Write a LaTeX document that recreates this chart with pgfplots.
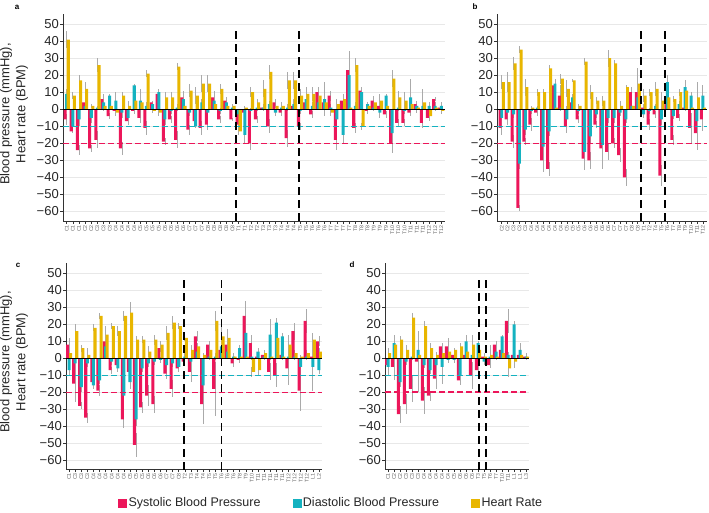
\documentclass[border=0pt]{standalone}
\usepackage{pgfplots}
\pgfplotsset{compat=1.18}
\usepackage{pgfplotstable}
\usepackage{fontspec}
\setmainfont{Liberation Sans}
\setsansfont{Liberation Sans}
\definecolor{sbpred}{RGB}{236,22,90}
\definecolor{dbpcyan}{RGB}{20,178,192}
\definecolor{hryellow}{RGB}{232,182,0}
\definecolor{errgray}{RGB}{170,170,170}

\pgfplotstableread{
x s es d ed h eh
0 -6 3 9 3 41 5
1 -13 1 -10 2 8 2
2 -24 3 -6 4 17 3
3 4 3 2 2 12 4
4 -23 2 -5 3 2 1
5 -18 5 1 1 26 4
6 6 2 4 5 2 2
7 -4 2 8 1 2 2
8 -1 3 5 5 -2 2
9 -23 4 -2 3 8 2
10 -7 2 -5 3 2 3
11 -1 2 14 1 5 3
12 -5 3 5 7 4 3
13 -11 4 2 2 21 2
14 4 1 3 2 -1 1
15 9 3 10 2 -2 2
16 -19 2 -6 3 7 3
17 -6 2 -1 2 7 3
18 -18 5 1 2 25 2
19 7 4 6 2 2 2
20 -12 3 -2 2 11 4
21 -7 3 -10 1 8 5
22 -11 4 4 2 15 5
23 -9 3 -2 2 15 5
24 7 4 5 2 3 2
25 -6 2 -1 2 12 3
26 5 1 4 3 2 2
27 -6 1 1 1 2 1
28 -9 4 -3 3 -13 2
29 -2 2 -15 5 1 1
30 -20 4 -1 2 10 3
31 -6 2 1 2 4 2
32 1 1 1 2 12 5
33 -10 4 3 2 22 4
34 4 2 -2 2 2 1
35 -2 2 1 2 2 2
36 -17 5 1 2 17 5
37 2 2 3 3 17 5
38 -10 2 -1 2 8 4
39 4 2 6 2 9 4
40 -3 2 2 2 9 4
41 10 2 4 4 8 5
42 4 2 6 10 4 3
43 8 3 1 2 -2 2
44 -18 6 -6 2 3 3
45 5 2 -15 5 6 3
46 23 11 20 11 1 1
47 -11 3 2 2 26 4
48 11 2 10 2 -10 2
49 -1 2 3 1 2 2
50 5 2 1 2 4 4
51 2 2 -2 3 5 4
52 -3 2 8 1 2 2
53 -20 6 -14 3 18 5
54 -8 2 1 2 7 4
55 -8 2 -1 2 5 5
56 -2 2 7 11 3 2
57 3 2 2 2 1 3
58 -8 3 2 2 4 8
59 -5 2 2 2 -4 3
60 6 1 2 2 1 2
61 1 2 2 2 -1 2
}\dataA

\pgfplotstableread{
x s es d ed h eh
0 -11 4 -5 2 16 4
1 -6 3 -2 2 16 6
2 -19 4 -3 2 27 4
3 -58 2 -32 3 35 2
4 -19 2 -12 3 13 5
5 -9 4 -1 2 1 1
6 -2 2 1 1 10 2
7 -30 7 -22 3 10 2
8 -35 4 -13 3 24 2
9 14 4 15 2 1 1
10 8 6 1 2 18 3
11 -10 2 -6 8 12 5
12 4 2 7 2 17 1
13 -6 2 -1 2 2 1
14 -29 7 -25 4 28 2
15 -30 5 -16 4 10 4
16 -9 2 -3 2 5 2
17 -23 7 -21 14 5 3
18 -25 5 -5 3 30 5
19 -20 3 -5 3 27 2
20 -27 4 -2 2 2 3
21 -40 5 -6 2 13 1
22 10 3 2 2 2 1
23 10 7 7 2 15 9
24 1 2 -3 2 8 4
25 -9 3 -1 2 10 2
26 -3 2 2 1 12 4
27 -39 6 -6 3 5 5
28 7 2 16 4 7 2
29 -18 3 -4 2 6 2
30 -5 2 3 2 10 2
31 1 2 13 4 11 4
32 -11 9 8 2 1 1
33 -14 10 -7 3 7 9
34 -6 7 8 6 1 1
}\dataB

\pgfplotstableread{
x s es d ed h eh
0 8 4 -7 3 3 2
1 -15 11 -3 2 16 4
2 -28 2 -17 3 6 2
3 -35 3 -3 2 2 4
4 -14 3 -16 2 18 2
5 -19 3 -13 2 25 2
6 10 2 7 2 14 5
7 -7 2 -2 2 19 2
8 -4 2 -6 2 16 3
9 -36 5 -22 3 25 3
10 -8 3 -14 4 27 6
11 -51 7 -36 4 11 2
12 -29 3 -6 2 11 2
13 -22 6 -3 2 4 3
14 -27 5 -2 2 11 3
15 6 2 -1 2 8 2
16 -9 3 -4 2 15 4
17 -18 5 -3 2 21 4
18 -6 2 -5 2 19 2
19 -2 2 1 2 12 2
20 -8 6 -2 2 5 3
21 13 3 4 2 7 2
22 -27 12 -16 3 2 1
23 8 2 1 2 5 2
24 -18 16 1 2 22 6
25 5 2 7 2 13 6
26 8 2 4 2 12 5
27 -3 2 1 2 1 1
28 -1 2 6 2 1 1
29 25 9 15 4 1 1
30 9 5 1 2 -8 3
31 1 2 4 2 -7 3
32 2 2 1 2 3 2
33 -8 5 14 9 1 2
34 -10 7 21 3 12 2
35 2 2 13 2 1 2
36 -6 10 1 2 8 6
37 16 5 1 2 3 2
38 -19 12 -5 2 1 1
39 22 7 1 2 3 2
40 1 2 -5 14 11 4
41 10 3 -7 2 4 2
}\dataC

\pgfplotstableread{
x s es d ed h eh
0 -4 4 -5 5 3 3
1 -5 8 9 5 8 6
2 -33 5 -14 3 11 2
3 -27 6 -2 2 5 3
4 -18 8 1 2 24 3
5 -2 18 5 9 2 2
6 -25 8 -4 2 19 3
7 -22 3 -7 2 6 3
8 -12 6 -4 2 2 2
9 7 2 -5 10 3 4
10 7 5 -1 2 4 2
11 2 2 -1 2 5 1
12 -13 3 -10 2 7 2
13 2 2 10 4 4 2
14 -10 8 2 2 8 6
15 -7 3 9 1 5 3
16 1 2 -2 2 1 2
17 -4 2 1 2 2 6
18 8 2 4 2 1 2
19 5 2 13 1 3 2
20 22 7 2 2 -6 5
21 2 2 20 2 -2 4
22 2 2 5 4 2 2
23 1 2 1 2 1 2
}\dataD

\pgfplotsset{
  bpaxis/.style={
    scale only axis, anchor=south west,
    axis x line*=bottom, axis y line*=left,
    axis line style={black!80, line width=0.9pt},
    ytick={-60,-50,-40,-30,-20,-10,0,10,20,30,40,50},
    yticklabels={−60,−50,−40,−30,−20,−10,0,10,20,30,40,50},
    ymajorgrids, grid style={black!9, line width=0.5pt},
    tick align=outside, major tick length=3pt,
    tick style={black!80, line width=0.6pt},
    y tick label style={font=\fontsize{13}{14}\selectfont, text=black!85, inner sep=1pt},
    x tick label style={rotate=90, anchor=east, font=\fontsize{5.3}{6}\selectfont, text=black!60, inner sep=1pt},
  },
}
\newcommand{\panelplots}[1]{%
  \addplot[ybar, bar width=0.5, bar shift=-0.26, draw=none, fill=none, forget plot,
    error bars/.cd, y dir=both, y explicit, error mark=none,
    error bar style={errgray, line width=0.9pt}] table[x=x, y=s, y error=es]{#1};
  \addplot[ybar, bar width=0.5, bar shift=0, draw=none, fill=none, forget plot,
    error bars/.cd, y dir=both, y explicit, error mark=none,
    error bar style={errgray, line width=0.9pt}] table[x=x, y=d, y error=ed]{#1};
  \addplot[ybar, bar width=0.5, bar shift=0.26, draw=none, fill=none, forget plot,
    error bars/.cd, y dir=both, y explicit, error mark=none,
    error bar style={errgray, line width=0.9pt}] table[x=x, y=h, y error=eh]{#1};
  \addplot[ybar, bar width=0.5, bar shift=-0.26, fill=sbpred, draw=none, forget plot] table[x=x, y=s]{#1};
  \addplot[ybar, bar width=0.5, bar shift=0, fill=dbpcyan, draw=none, forget plot] table[x=x, y=d]{#1};
  \addplot[ybar, bar width=0.5, bar shift=0.26, fill=hryellow, draw=none, forget plot] table[x=x, y=h]{#1};
}
\newcommand{\reflines}[4]{%
  \addplot[draw=sbpred, line width=1.4pt, dash pattern=on 6pt off 3pt, forget plot] coordinates {(#1,-20) (#2,-20)};
  \addplot[draw=dbpcyan, line width=1.3pt, dash pattern=on 6pt off 3pt, forget plot] coordinates {(#1,-10) (#2,-10)};
  \addplot[draw=black, line width=0.6pt, forget plot] coordinates {(#1,0) (#2,0)};
  \addplot[draw=black, line width=1.8pt, dash pattern=on 8pt off 5pt, forget plot] coordinates {(#3,46) (#3,-66)};
  \addplot[draw=black, line width=1.8pt, dash pattern=on 8pt off 5pt, forget plot] coordinates {(#4,46) (#4,-66)};
}

\begin{document}
\begin{tikzpicture}
\useasboundingbox (0pt,0pt) rectangle (709pt,512pt);

% panel a
\begin{axis}[bpaxis, at={(63pt,291pt)}, width=382pt, height=207pt,
  xmin=-0.6, xmax=61.6, ymin=-65.7, ymax=56,
  xtick={0,...,61},
  xticklabels={C1,C1,C1,C2,C2,C3,C3,C3,C4,C4,C4,C4,C5,C5,C5,C5,C6,C6,C6,C6,C7,C7,C7,C8,C8,C8,C8,C8,T1,T1,T2,T2,T3,T3,T3,T4,T4,T4,T5,T5,T6,T6,T6,T7,T7,T7,T7,T8,T8,T8,T9,T9,T9,T10,T10,T10,T11,T11,T11,T12,T12,T12}]
\panelplots{\dataA}
\reflines{-0.6}{61.6}{27.52}{37.88}
\end{axis}

% panel b
\begin{axis}[bpaxis, at={(497pt,291pt)}, width=210pt, height=207pt,
  xmin=-0.8, xmax=34.7, ymin=-65.7, ymax=56,
  xtick={0,...,34},
  xticklabels={C2,C2,C3,C3,C3,C4,C4,C4,C4,C4,C4,C5,C5,C5,C6,C6,C6,C6,C6,C7,C7,C7,C8,C8,T1,T2,T4,T5,T6,T7,T8,T9,T10,T11,T12}]
\panelplots{\dataB}
\reflines{-0.8}{34.7}{23.5}{27.6}
\end{axis}

% panel c
\begin{axis}[bpaxis, at={(66pt,43pt)}, width=256pt, height=206pt,
  xmin=-0.5, xmax=41.5, ymin=-65.3, ymax=56.2,
  xtick={0,...,41},
  xticklabels={C1,C3,C3,C3,C4,C4,C4,C4,C4,C4,C5,C5,C5,C6,C6,C6,C7,C7,C8,T2,T3,T4,T4,T5,T5,T6,T6,T6,T8,T9,T10,T11,T11,T11,T11,T11,T12,T12,T12,T12,L1,L2},
  legend style={at={(0.203,-0.165)}, anchor=west, draw=none, fill=none,
    legend columns=3, font=\fontsize{12.5}{14}\selectfont, text=black!85,
    inner sep=0pt, /tikz/every even column/.append style={column sep=30pt}},
  legend cell align=left]
\panelplots{\dataC}
\reflines{-0.5}{41.5}{18.9}{25.0}
\addlegendimage{legend image code/.code={\fill[sbpred] (0pt,-4pt) rectangle (8pt,4pt);}}
\addlegendentry{Systolic Blood Pressure}
\addlegendimage{legend image code/.code={\fill[dbpcyan] (0pt,-4pt) rectangle (8pt,4pt);}}
\addlegendentry{Diastolic Blood Pressure}
\addlegendimage{legend image code/.code={\fill[hryellow] (0pt,-4pt) rectangle (8pt,4pt);}}
\addlegendentry{Heart Rate}
\end{axis}

% panel d
\begin{axis}[bpaxis, at={(385pt,43pt)}, width=144pt, height=206pt,
  xmin=-0.5, xmax=23.5, ymin=-65.3, ymax=56.2,
  xtick={0,...,23},
  xticklabels={C1,C2,C2,C3,C3,C3,C4,C4,C4,C4,C4,C5,C6,C6,C6,T3,T5,T6,T7,T10,T11,L1,L1,L3}]
\panelplots{\dataD}
\reflines{-0.5}{23.5}{15.17}{16.33}
\end{axis}

% panel letters and y labels
\node[font=\bfseries\fontsize{8}{9}\selectfont] at (17pt,505pt) {a};
\node[font=\bfseries\fontsize{8}{9}\selectfont] at (475pt,505pt) {b};
\node[font=\bfseries\fontsize{8}{9}\selectfont] at (18pt,247pt) {c};
\node[font=\bfseries\fontsize{8}{9}\selectfont] at (352pt,247pt) {d};
\node[rotate=90, align=center, font=\fontsize{13}{16}\selectfont, text=black!85] at (14pt,398pt) {Blood pressure (mmHg),\\Heart rate (BPM)};
\node[rotate=90, align=center, font=\fontsize{13}{16}\selectfont, text=black!85] at (14pt,150pt) {Blood pressure (mmHg),\\Heart rate (BPM)};
\end{tikzpicture}
\end{document}
